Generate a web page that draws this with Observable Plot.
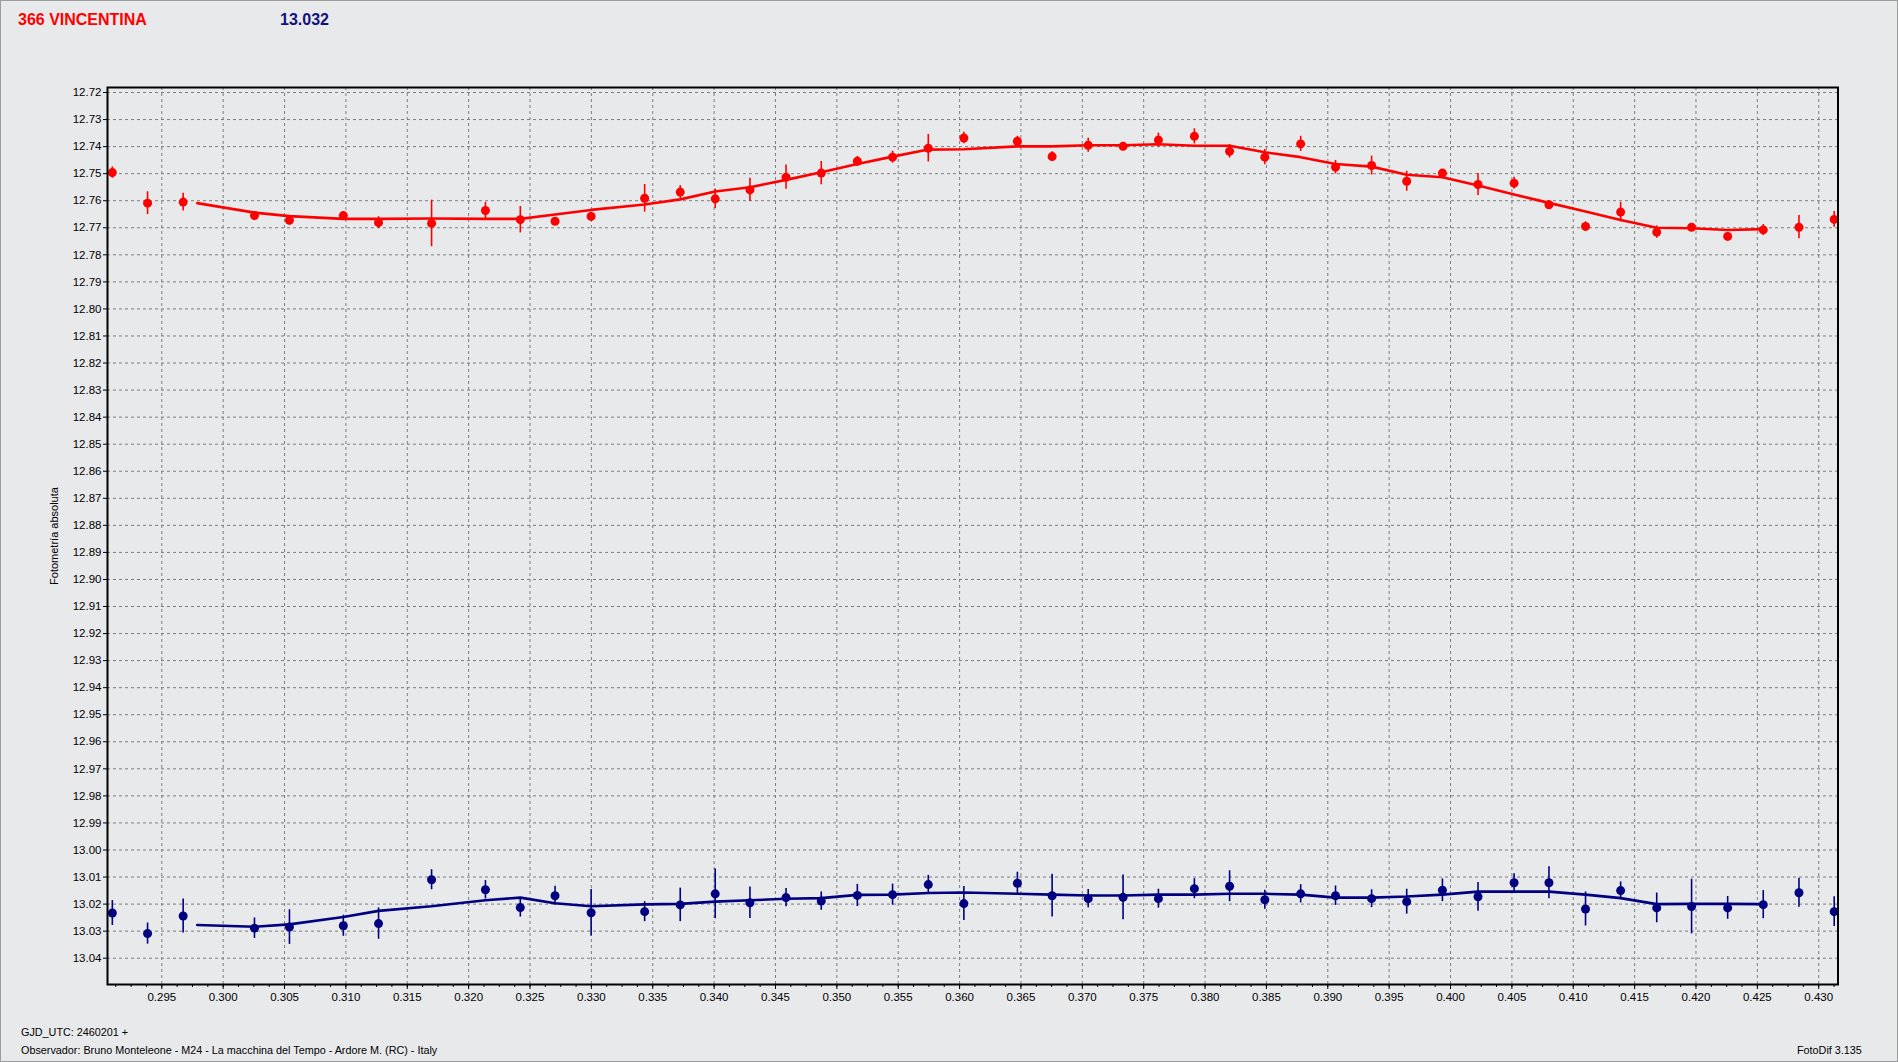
<!DOCTYPE html>
<html>
<head>
<meta charset="utf-8">
<script src="https://cdn.jsdelivr.net/npm/d3@7"></script>
<script src="https://cdn.jsdelivr.net/npm/@observablehq/plot@0.6"></script>
<style>
html, body { margin: 0; padding: 0; background: #e8e9eb; }
#page { position: relative; width: 1898px; height: 1062px; background: #e8e9eb; overflow: hidden;
        font-family: "Liberation Sans", Arial, sans-serif; }
#chart { position: absolute; left: 0; top: 0; }
.t { position: absolute; white-space: nowrap; line-height: 1; }
#border { position: absolute; left: 0; top: 0; width: 1898px; height: 1062px; box-sizing: border-box;
          border: 1px solid #9c9c9c; pointer-events: none; }
</style>
</head>
<body>
<div id="page">
  <div id="chart"></div>
  <div class="t" style="left:18px;top:12px;font-size:16px;font-weight:bold;color:#ff0000;">366 VINCENTINA</div>
  <div class="t" style="left:280px;top:12px;font-size:16px;font-weight:bold;color:#12127e;">13.032</div>
  <div class="t" id="ylab" style="left:54px;top:536px;font-size:11px;color:#000;transform:translate(-50%,-50%) rotate(-90deg);transform-origin:center;">Fotometría absoluta</div>
  <div class="t" style="left:21px;top:1027px;font-size:10.8px;color:#000;">GJD_UTC: 2460201 +</div>
  <div class="t" style="left:21px;top:1045px;font-size:10.8px;color:#000;">Observador: Bruno Monteleone - M24 - La macchina del Tempo - Ardore M. (RC) - Italy</div>
  <div class="t" style="left:1797px;top:1045px;font-size:10.8px;color:#000;">FotoDif 3.135</div>
  <div id="border"></div>
</div>
<script>
// ---- data ----
const phase = [0.29097, 0.29384, 0.29674, 0.30255, 0.30540, 0.30979, 0.31266, 0.31698, 0.32137, 0.32421,
  0.32704, 0.32998, 0.33434, 0.33724, 0.34009, 0.34292, 0.34586, 0.34873, 0.35167, 0.35454,
  0.35745, 0.36035, 0.36471, 0.36754, 0.37048, 0.37332, 0.37620, 0.37913, 0.38200, 0.38487,
  0.38779, 0.39063, 0.39357, 0.39643, 0.39934, 0.40224, 0.40518, 0.40802, 0.41100, 0.41386,
  0.41680, 0.41964, 0.42258, 0.42548, 0.42839, 0.43126];

const magTarget = [12.7496, 12.7609, 12.7605, 12.7655, 12.7672, 12.7655, 12.7681, 12.7684, 12.7636, 12.7670,
  12.7676, 12.7658, 12.7591, 12.7568, 12.7593, 12.7560, 12.7513, 12.7498, 12.7454, 12.7439,
  12.7406, 12.7368, 12.7380, 12.7437, 12.7395, 12.7399, 12.7376, 12.7362, 12.7417, 12.7439,
  12.7390, 12.7476, 12.7470, 12.7528, 12.7498, 12.7540, 12.7535, 12.7615, 12.7695, 12.7642,
  12.7716, 12.7698, 12.7732, 12.7708, 12.7698, 12.7669];

const errTarget = [0.0021, 0.0042, 0.0033, 0.0013, 0.0018, 0.0015, 0.0022, 0.0086, 0.0030, 0.0049,
  0.0012, 0.0015, 0.0051, 0.0024, 0.0036, 0.0043, 0.0045, 0.0043, 0.0018, 0.0022,
  0.0051, 0.0021, 0.0018, 0.0018, 0.0026, 0.0012, 0.0026, 0.0028, 0.0025, 0.0028,
  0.0028, 0.0025, 0.0035, 0.0037, 0.0012, 0.0041, 0.0022, 0.0014, 0.0017, 0.0036,
  0.0023, 0.0014, 0.0015, 0.0020, 0.0043, 0.0029];

const magCheck = [13.0233, 13.0309, 13.0244, 13.0289, 13.0285, 13.0280, 13.0272, 13.0110, 13.0147, 13.0213,
  13.0169, 13.0232, 13.0228, 13.0203, 13.0162, 13.0195, 13.0176, 13.0189, 13.0168, 13.0165,
  13.0128, 13.0198, 13.0123, 13.0169, 13.0180, 13.0175, 13.0180, 13.0143, 13.0134, 13.0184,
  13.0162, 13.0169, 13.0180, 13.0191, 13.0149, 13.0173, 13.0121, 13.0121, 13.0218, 13.0150,
  13.0214, 13.0209, 13.0214, 13.0202, 13.0158, 13.0228];

const errCheck = [0.0046, 0.0039, 0.0063, 0.0038, 0.0064, 0.0039, 0.0058, 0.0037, 0.0034, 0.0035,
  0.0035, 0.0086, 0.0037, 0.0062, 0.0092, 0.0058, 0.0034, 0.0034, 0.0041, 0.0039,
  0.0034, 0.0063, 0.0041, 0.0079, 0.0034, 0.0083, 0.0035, 0.0037, 0.0057, 0.0035,
  0.0034, 0.0036, 0.0033, 0.0046, 0.0042, 0.0053, 0.0033, 0.0059, 0.0063, 0.0032,
  0.0055, 0.0101, 0.0042, 0.0052, 0.0054, 0.0055];

const fitPhase = [0.29789, 0.30255, 0.30540, 0.30979, 0.31266, 0.31698, 0.32137, 0.32421, 0.32704, 0.32998,
  0.33434, 0.33724, 0.34009, 0.34292, 0.34586, 0.34873, 0.35167, 0.35454, 0.35745, 0.36035,
  0.36471, 0.36754, 0.37048, 0.37332, 0.37620, 0.37913, 0.38200, 0.38487, 0.38779, 0.39063,
  0.39357, 0.39643, 0.39934, 0.40224, 0.40518, 0.40802, 0.41100, 0.41386, 0.41680, 0.41964,
  0.42258, 0.42548];

const fitTarget = [12.7609, 12.7644, 12.7657, 12.7667, 12.7667, 12.7666, 12.7667, 12.7667, 12.7651, 12.7634,
  12.7614, 12.7595, 12.7566, 12.7550, 12.7523, 12.7495, 12.7464, 12.7437, 12.7411, 12.7410,
  12.7399, 12.7399, 12.7395, 12.7395, 12.7391, 12.7397, 12.7397, 12.7421, 12.7439, 12.7464,
  12.7474, 12.7504, 12.7513, 12.7544, 12.7577, 12.7608, 12.7640, 12.7671, 12.7700, 12.7702,
  12.7708, 12.7705];

const fitCheck = [13.0277, 13.0284, 13.0275, 13.0248, 13.0225, 13.0208, 13.0186, 13.0176, 13.0197, 13.0208,
  13.0201, 13.0199, 13.0191, 13.0186, 13.0180, 13.0178, 13.0166, 13.0165, 13.0159, 13.0157,
  13.0162, 13.0165, 13.0168, 13.0168, 13.0165, 13.0165, 13.0162, 13.0162, 13.0165, 13.0176,
  13.0176, 13.0172, 13.0165, 13.0154, 13.0154, 13.0154, 13.0165, 13.0178, 13.0200, 13.0199,
  13.0199, 13.0200];

const xTicks = [0.295, 0.300, 0.305, 0.310, 0.315, 0.320, 0.325, 0.330, 0.335, 0.340,
  0.345, 0.350, 0.355, 0.360, 0.365, 0.370, 0.375, 0.380, 0.385, 0.390,
  0.395, 0.400, 0.405, 0.410, 0.415, 0.420, 0.425, 0.430];
const yTicks = [12.72, 12.73, 12.74, 12.75, 12.76, 12.77, 12.78, 12.79, 12.80, 12.81,
  12.82, 12.83, 12.84, 12.85, 12.86, 12.87, 12.88, 12.89, 12.90, 12.91,
  12.92, 12.93, 12.94, 12.95, 12.96, 12.97, 12.98, 12.99, 13.00, 13.01,
  13.02, 13.03, 13.04];

const RED = "#ff0000";
const NAVY = "#000080";

// ---- tables ----
const target = phase.map((p, i) => ({phase: p, mag: magTarget[i], err: errTarget[i]}));
const check = phase.map((p, i) => ({phase: p, mag: magCheck[i], err: errCheck[i]}));
const fitT = fitPhase.map((p, i) => ({phase: p, mag: fitTarget[i]}));
const fitC = fitPhase.map((p, i) => ({phase: p, mag: fitCheck[i]}));
const minorTicks = d3.range(0, 113).map(i => 0.29125 + i * 0.00125).filter(v => v < 0.4315);

const chart = Plot.plot({
  width: 1898,
  height: 1062,
  marginLeft: 107,
  marginRight: 60.5,
  marginTop: 87,
  marginBottom: 78,
  style: {background: "transparent", fontFamily: "'Liberation Sans', Arial, sans-serif", fontSize: "11.5px", color: "#000"},
  x: {domain: [0.290576, 0.43157]},
  y: {domain: [12.71815, 13.04972], reverse: true},
  marks: [
    Plot.gridX(xTicks, {stroke: "#7d7d7d", strokeOpacity: 1, strokeDasharray: "3,3", strokeWidth: 1}),
    Plot.gridY(yTicks, {stroke: "#7d7d7d", strokeOpacity: 1, strokeDasharray: "3,3", strokeWidth: 1}),
    Plot.axisX(minorTicks, {tickSize: 3, tickFormat: () => "", label: null, stroke: "#000"}),
    Plot.axisX(xTicks, {tickSize: 5, tickPadding: 3, tickFormat: d3.format(".3f"), label: null, stroke: "#000", fill: "#000"}),
    Plot.axisY(yTicks, {tickSize: 4, tickPadding: 2, tickFormat: d3.format(".2f"), label: null, stroke: "#000", fill: "#000"}),
    Plot.line(fitT, {x: "phase", y: "mag", stroke: RED, strokeWidth: 2.6}),
    Plot.line(fitC, {x: "phase", y: "mag", stroke: NAVY, strokeWidth: 2.6}),
    Plot.ruleX(target, {x: "phase", y1: d => d.mag - d.err, y2: d => d.mag + d.err, stroke: RED, strokeWidth: 1.6}),
    Plot.ruleX(check, {x: "phase", y1: d => d.mag - d.err, y2: d => d.mag + d.err, stroke: NAVY, strokeWidth: 1.6}),
    Plot.dot(target, {x: "phase", y: "mag", r: 4.5, fill: RED, stroke: null}),
    Plot.dot(check, {x: "phase", y: "mag", r: 4.5, fill: NAVY, stroke: null}),
    Plot.frame({stroke: "#000", strokeWidth: 2})
  ]
});
document.getElementById("chart").appendChild(chart);
</script>
</body>
</html>
